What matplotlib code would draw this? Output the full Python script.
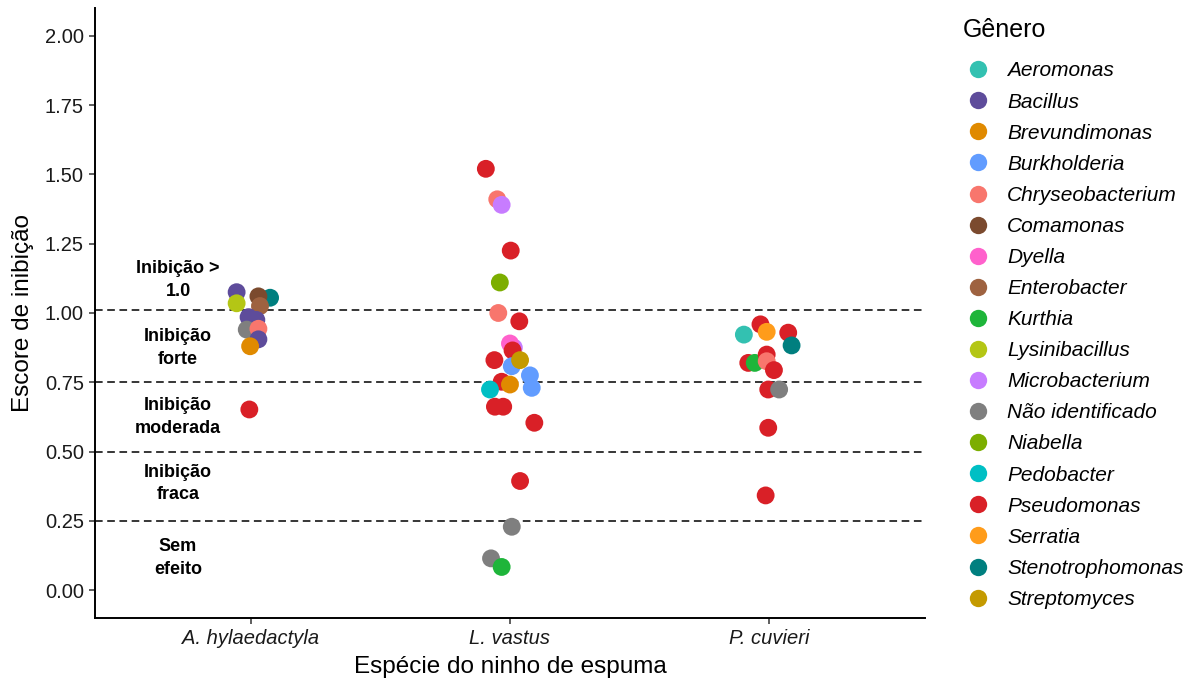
import matplotlib.pyplot as plt
from matplotlib.lines import Line2D

plt.rcParams['font.family'] = ['Liberation Sans', 'DejaVu Sans']

species = ['A. hylaedactyla', 'L. vastus', 'P. cuvieri']

genera = ['Aeromonas', 'Bacillus', 'Brevundimonas', 'Burkholderia',
          'Chryseobacterium', 'Comamonas', 'Dyella', 'Enterobacter',
          'Kurthia', 'Lysinibacillus', 'Microbacterium', 'Não identificado',
          'Niabella', 'Pedobacter', 'Pseudomonas', 'Serratia',
          'Stenotrophomonas', 'Streptomyces']

genus_colors = ['#33C1B1', '#5E4C9B', '#E08A00', '#619CFF',
                '#F8766D', '#7B4A2E', '#FF61CC', '#9E6240',
                '#1EB53A', '#B4C615', '#C77CFF', '#7F7F7F',
                '#7CAE00', '#00BFC4', '#D92027', '#FF9C1A',
                '#007F7F', '#C49A00']

# isolates per foam-nest species: genus, inhibition score, jitter offset
ahy_genus = ['Bacillus', 'Lysinibacillus', 'Stenotrophomonas', 'Comamonas',
             'Enterobacter', 'Bacillus', 'Bacillus', 'Não identificado',
             'Chryseobacterium', 'Bacillus', 'Brevundimonas', 'Pseudomonas']
ahy_score = [1.075, 1.035, 1.055, 1.06, 1.025, 0.985, 0.975, 0.94,
             0.943, 0.905, 0.88, 0.652]
ahy_jitter = [-0.054, -0.054, 0.075, 0.03, 0.036, -0.008, 0.022, -0.015,
              0.03, 0.03, -0.002, -0.005]

lva_genus = ['Pseudomonas', 'Chryseobacterium', 'Microbacterium', 'Pseudomonas',
             'Niabella', 'Chryseobacterium', 'Pseudomonas', 'Microbacterium',
             'Dyella', 'Pseudomonas', 'Pseudomonas', 'Burkholderia',
             'Streptomyces', 'Burkholderia', 'Pseudomonas', 'Brevundimonas',
             'Burkholderia', 'Pedobacter', 'Pseudomonas', 'Pseudomonas',
             'Pseudomonas', 'Pseudomonas', 'Não identificado',
             'Não identificado', 'Kurthia']
lva_score = [1.52, 1.41, 1.39, 1.225, 1.11, 1.0, 0.97, 0.875,
             0.89, 0.865, 0.83, 0.808, 0.83, 0.775, 0.752, 0.742,
             0.73, 0.724, 0.662, 0.662, 0.604, 0.394, 0.229,
             0.115, 0.084]
lva_jitter = [-0.093, -0.049, -0.032, 0.003, -0.039, -0.045, 0.036, 0.015,
              0.0, 0.01, -0.06, 0.007, 0.039, 0.077, -0.032, 0.0,
              0.084, -0.077, -0.058, -0.026, 0.094, 0.039, 0.007,
              -0.073, -0.032]

pcu_genus = ['Aeromonas', 'Pseudomonas', 'Serratia', 'Pseudomonas',
             'Stenotrophomonas', 'Pseudomonas', 'Kurthia', 'Pseudomonas',
             'Chryseobacterium', 'Pseudomonas', 'Pseudomonas',
             'Não identificado', 'Pseudomonas', 'Pseudomonas']
pcu_score = [0.922, 0.959, 0.932, 0.929, 0.883, 0.82, 0.82, 0.85,
             0.826, 0.794, 0.724, 0.724, 0.586, 0.342]
pcu_jitter = [-0.098, -0.034, -0.01, 0.073, 0.086, -0.081, -0.056, -0.01,
              -0.01, 0.018, -0.004, 0.038, -0.004, -0.014]

# inhibition classes: thresholds and label positions
thresholds = [1.01, 0.75, 0.50, 0.25]
class_labels = ['Inibição >\n1.0', 'Inibição\nforte', 'Inibição\nmoderada',
                'Inibição\nfraca', 'Sem\nefeito']
class_label_y = [1.12, 0.875, 0.625, 0.385, 0.115]

color_of = dict(zip(genera, genus_colors))

fig = plt.figure(figsize=(11.94, 6.83), dpi=100)
ax = fig.add_axes([0.0796, 0.0952, 0.695, 0.8931])

groups = [(ahy_genus, ahy_score, ahy_jitter),
          (lva_genus, lva_score, lva_jitter),
          (pcu_genus, pcu_score, pcu_jitter)]
for i, (gen, score, jit) in enumerate(groups):
    xs = [i + 1 + j for j in jit]
    cols = [color_of[g] for g in gen]
    ax.scatter(xs, score, s=165, c=cols, edgecolors='none', zorder=3)

for t in thresholds:
    ax.axhline(t, color='black', lw=1.1, dashes=(5, 3), zorder=2)

for lab, y in zip(class_labels, class_label_y):
    ax.text(0.72, y, lab, ha='center', va='center', fontsize=13,
            fontweight='bold', linespacing=1.45, zorder=4)

ax.set_xlim(0.4, 3.6)
ax.set_ylim(-0.1, 2.1)
ax.set_xticks([1, 2, 3])
ax.set_xticklabels(species, fontstyle='italic')
yt = [0, 0.25, 0.5, 0.75, 1.0, 1.25, 1.5, 1.75, 2.0]
ax.set_yticks(yt)
ax.set_yticklabels([f'{v:.2f}' for v in yt])
ax.tick_params(labelsize=14.5, length=4, width=1.1, color='#333333',
               labelcolor='#1a1a1a', pad=4)
ax.spines[['top', 'right']].set_visible(False)
for s in ['left', 'bottom']:
    ax.spines[s].set_linewidth(1.4)

ax.set_xlabel('Espécie do ninho de espuma', fontsize=17.5, labelpad=6)
ax.set_ylabel('Escore de inibição', fontsize=17.5, labelpad=8)

# legend title placed on its own, entries below
fig.text(963 / 1194, 1 - 30 / 683, 'Gênero', fontsize=18,
         ha='left', va='center')
handles = [Line2D([], [], ls='none', marker='o', ms=12.5, mec='none', mfc=c)
           for c in genus_colors]
leg = fig.legend(handles, genera, loc='upper left',
                 bbox_to_anchor=(965.5 / 1194, 1 - 61.5 / 683), frameon=False,
                 borderpad=0, borderaxespad=0,
                 prop={'size': 15, 'style': 'italic'},
                 labelspacing=0.58, handletextpad=0.8, handlelength=1.2)

fig.savefig('out.png', dpi=100)
